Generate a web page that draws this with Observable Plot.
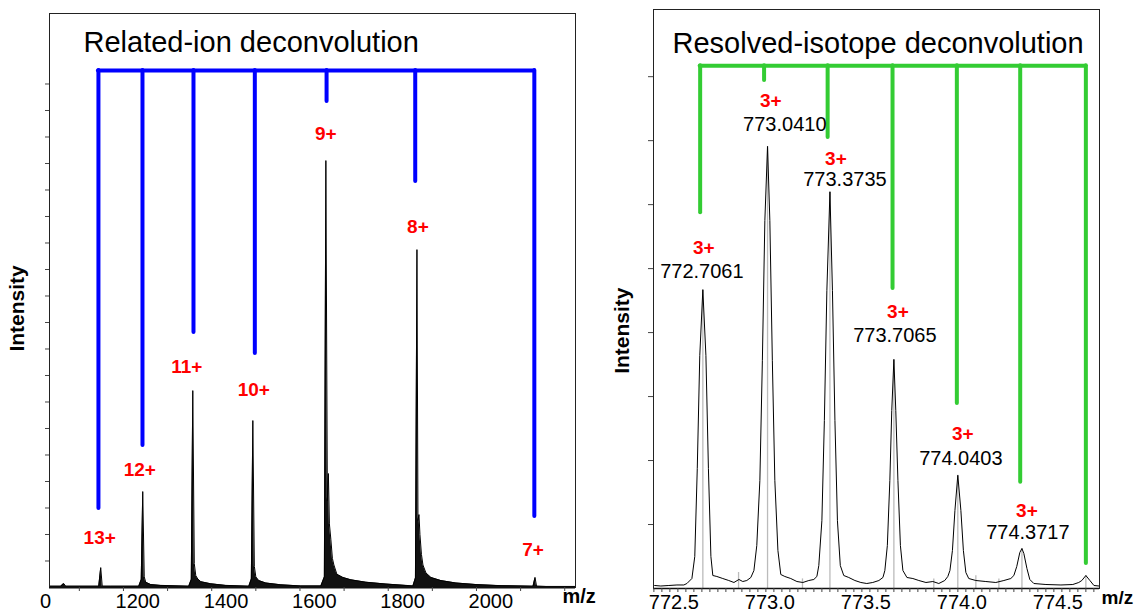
<!DOCTYPE html>
<html><head><meta charset="utf-8">
<script src="https://cdn.jsdelivr.net/npm/d3@7"></script>
<script src="https://cdn.jsdelivr.net/npm/@observablehq/plot@0.6"></script>
<style>
body{margin:0;background:#fff;}
#wrap{display:flex;width:1136px;height:615px;overflow:hidden;}
svg{overflow:visible;}
</style></head><body><div id="wrap"></div>
<script>
// ---------- Left panel: related-ion deconvolution ----------
const leftTitle = "Related-ion deconvolution";
const leftMz = [1000, 1025.4, 1032.2, 1036.7, 1111.6, 1116.1, 1119.5, 1138.8, 1202.3, 1207.9, 1211.3, 1214.7, 1218.1, 1229.5, 1252.2, 1315.6, 1321.3, 1324.7, 1328.1, 1331.5, 1336.1, 1342.9, 1365.5, 1399.6, 1451.7, 1457.4, 1460.8, 1464.2, 1467.6, 1474.4, 1490.3, 1524.3, 1569.6, 1615.0, 1622.9, 1626.3, 1629.7, 1632.0, 1634.3, 1637.7, 1641.1, 1644.5, 1651.3, 1664.9, 1683.0, 1717.0, 1762.4, 1807.8, 1823.6, 1829.3, 1832.7, 1835.0, 1837.3, 1839.5, 1842.9, 1846.3, 1853.1, 1864.4, 1887.1, 1921.1, 1966.5, 2023.2, 2095.8, 2100.3, 2103.7, 2125.3, 2191];
const leftInt = [0.05, 0.05, 0.15, 0.05, 0.05, 0.75, 0.05, 0.05, 0.05, 0.3, 3.62, 0.4, 0.2, 0.11, 0.08, 0.05, 0.3, 7.43, 0.9, 0.45, 0.32, 0.22, 0.14, 0.08, 0.05, 0.32, 6.30, 0.8, 0.4, 0.26, 0.17, 0.1, 0.06, 0.06, 0.4, 16.11, 3.28, 4.30, 2.4, 1.8, 1.1, 0.85, 0.5, 0.38, 0.29, 0.2, 0.13, 0.08, 0.06, 0.36, 12.75, 2.53, 2.75, 2.0, 1.25, 0.85, 0.55, 0.38, 0.26, 0.17, 0.11, 0.07, 0.05, 0.38, 0.05, 0.04, 0.04];
const leftCharge = ["13+", "12+", "11+", "10+", "9+", "8+", "7+"];
const leftChargeMz = [1113.8, 1204.5, 1311.1, 1463.0, 1626.3, 1834.9, 2095.7];
const leftChargeY = [1.89, 4.45, 8.34, 7.47, 17.13, 13.62, 1.43];
const blueMz = [1110.9, 1210.7, 1326.3, 1465.3, 1627.9, 1828.8, 2098.7];
const blueBottom = [2.98, 5.36, 9.62, 8.83, 18.34, 15.32, 2.68];
const blueTop = 19.51;
const leftXTicks = [1200, 1400, 1600, 1800, 2000];
const leftXTickText = ["1200", "1400", "1600", "1800", "2000"];
const leftZeroTick = 1000, leftZeroText = "0";
const leftXMinor = d3.range(1067.6, 2192, 100);
const leftYTicks = d3.range(1, 20);
const leftYLabelAt = 10.53;

// ---------- Right panel: resolved-isotope deconvolution ----------
const rightTitle = "Resolved-isotope deconvolution";
const rightMz = [772.40, 772.432, 772.474, 772.516, 772.552, 772.568, 772.594, 772.609, 772.622, 772.635, 772.651, 772.667, 772.680, 772.693, 772.703, 772.724, 772.755, 772.786, 772.813, 772.839, 772.859, 772.880, 772.901, 772.917, 772.932, 772.948, 772.961, 772.974, 772.988, 773.000, 773.013, 773.026, 773.042, 773.057, 773.078, 773.109, 773.141, 773.172, 773.203, 773.229, 773.245, 773.255, 773.271, 773.284, 773.297, 773.313, 773.326, 773.339, 773.352, 773.367, 773.385, 773.411, 773.443, 773.474, 773.505, 773.536, 773.568, 773.589, 773.599, 773.612, 773.625, 773.635, 773.646, 773.656, 773.667, 773.680, 773.693, 773.714, 773.745, 773.776, 773.813, 773.849, 773.880, 773.911, 773.927, 773.938, 773.951, 773.964, 773.979, 773.995, 774.008, 774.021, 774.036, 774.073, 774.125, 774.177, 774.219, 774.255, 774.271, 774.286, 774.302, 774.313, 774.323, 774.339, 774.354, 774.375, 774.438, 774.516, 774.578, 774.609, 774.625, 774.646, 774.667, 774.688, 774.714];
const rightInt = [0.047, 0.039, 0.047, 0.055, 0.055, 0.078, 0.156, 0.5, 1.875, 3.64, 4.67, 3.64, 1.875, 0.5, 0.203, 0.188, 0.156, 0.125, 0.094, 0.141, 0.109, 0.125, 0.172, 0.281, 0.672, 1.69, 3.56, 5.75, 6.91, 5.75, 3.56, 1.69, 0.594, 0.219, 0.188, 0.156, 0.109, 0.094, 0.125, 0.141, 0.188, 0.359, 1.06, 2.625, 4.66, 6.20, 4.66, 2.625, 1.06, 0.359, 0.203, 0.172, 0.125, 0.094, 0.078, 0.094, 0.125, 0.172, 0.281, 0.672, 1.69, 2.78, 3.58, 2.78, 1.69, 0.672, 0.281, 0.172, 0.156, 0.125, 0.094, 0.109, 0.078, 0.125, 0.188, 0.281, 0.594, 1.22, 1.77, 1.22, 0.594, 0.25, 0.156, 0.125, 0.109, 0.094, 0.125, 0.156, 0.203, 0.344, 0.5625, 0.625, 0.547, 0.3125, 0.141, 0.078, 0.0625, 0.055, 0.0625, 0.094, 0.125, 0.203, 0.125, 0.047, 0.039];
const stickMz = [772.651, 772.988, 773.313, 773.646, 773.979, 774.313, 774.646, 772.837, 773.170, 773.854, 774.073, 774.193];
const stickInt = [4.67, 6.91, 6.20, 3.58, 1.77, 0.625, 0.203, 0.25, 0.15, 0.15, 0.2, 0.15];
const isoCharge = ["3+", "3+", "3+", "3+", "3+", "3+"];
const isoChargeMz = [772.656, 773.005, 773.344, 773.667, 774.005, 774.339];
const isoChargeY = [5.32, 7.625, 6.72, 4.33, 2.41, 1.22];
const isoValue = ["772.7061", "773.0410", "773.3735", "773.7065", "774.0403", "774.3717"];
const isoValueMz = [772.646, 773.078, 773.391, 773.651, 773.995, 774.344];
const isoValueY = [4.96, 7.25, 6.39, 3.95, 2.03, 0.875];
const greenMz = [772.637, 772.970, 773.301, 773.639, 773.974, 774.304, 774.646];
const greenBottom = [5.875, 7.94, 7.05, 4.69, 2.89, 1.66, 0.39];
const greenTop = 8.17;
const rightXTicks = [772.5, 773.0, 773.5, 774.0, 774.5];
const rightXTickText = ["772.5", "773.0", "773.5", "774.0", "774.5"];
const rightXMinor = d3.range(772.396, 774.72, 1 / 24);
const rightYTicks = d3.range(1, 9);
const rightYLabelAt = 4.03;

const FONT = "Liberation Sans, Arial, Helvetica, sans-serif";
const leftData = leftMz.map((m, i) => ({m, v: leftInt[i]}));
const rightData = rightMz.map((m, i) => ({m, v: rightInt[i]}));

const left = Plot.plot({
  width: 600, height: 615,
  marginLeft: 49, marginRight: 25, marginTop: 13, marginBottom: 28,
  style: {fontFamily: FONT, background: "white", overflow: "visible"},
  x: {domain: [1000, 2192], label: null},
  y: {domain: [0, 21.66], label: null},
  marks: [
    Plot.areaY(leftData, {x: "m", y: "v", fill: "#111"}),
    Plot.lineY(leftData, {x: "m", y: "v", stroke: "black", strokeWidth: 1}),
    Plot.frame({stroke: "#222"}),
    Plot.ruleY([0], {stroke: "#111", strokeWidth: 2}),
    Plot.axisY({ticks: leftYTicks, tickSize: 4, fill: "none", anchor: "left", label: null, stroke: "#444"}),
    Plot.axisX({ticks: leftXMinor, tickSize: 4, fill: "none", label: null, stroke: "#444"}),
    Plot.axisX({ticks: leftXTicks, tickSize: 0, tickPadding: 6, fontSize: 20, label: null,
      tickFormat: d => leftXTickText[leftXTicks.indexOf(d)]}),
    Plot.axisX({ticks: [leftZeroTick], tickSize: 0, tickPadding: 6, fontSize: 20, label: null, dx: -4,
      tickFormat: () => leftZeroText}),
    Plot.ruleX(blueMz, {x: d => d, y1: (d, i) => blueBottom[i], y2: blueTop, stroke: "#0000ff", strokeWidth: 4, strokeLinecap: "round"}),
    Plot.ruleY([blueTop], {x1: d3.min(blueMz), x2: d3.max(blueMz), stroke: "#0000ff", strokeWidth: 4, strokeLinecap: "round"}),
    Plot.text(leftCharge, {x: leftChargeMz, y: leftChargeY, text: d => d, fill: "#ff0000", fontWeight: "bold", fontSize: 19}),
    Plot.text([leftTitle], {frameAnchor: "top-left", dx: 34, dy: 18, textAnchor: "start", fontSize: 29, text: d => d}),
    Plot.text(["Intensity"], {frameAnchor: "left", y: [leftYLabelAt], rotate: -90, dx: -32, textAnchor: "middle", fontWeight: "bold", fontSize: 21, text: d => d}),
    Plot.text(["m/z"], {frameAnchor: "bottom-right", dx: -13, dy: 15, textAnchor: "start", fontWeight: "bold", fontSize: 20, text: d => d})
  ]
});

const right = Plot.plot({
  width: 536, height: 615,
  marginLeft: 53, marginRight: 37, marginTop: 9, marginBottom: 27,
  style: {fontFamily: FONT, background: "white", overflow: "visible"},
  x: {domain: [772.394, 774.717], label: null},
  y: {domain: [0, 9.05], label: null},
  marks: [
    Plot.ruleX(stickMz, {x: d => d, y1: 0, y2: (d, i) => stickInt[i], stroke: "#bbbbbb", strokeWidth: 1.3}),
    Plot.lineY(rightData, {x: "m", y: "v", stroke: "black", strokeWidth: 1}),
    Plot.frame({stroke: "#222"}),
    Plot.ruleY([0], {stroke: "#111", strokeWidth: 1.5}),
    Plot.axisY({ticks: rightYTicks, tickSize: 5, fill: "none", anchor: "left", label: null, stroke: "#444"}),
    Plot.axisX({ticks: rightXMinor, tickSize: 4, fill: "none", label: null, stroke: "#444"}),
    Plot.axisX({ticks: rightXTicks, tickSize: 0, tickPadding: 6, fontSize: 20, label: null,
      tickFormat: d => rightXTickText[rightXTicks.indexOf(d)]}),
    Plot.ruleX(greenMz, {x: d => d, y1: (d, i) => greenBottom[i], y2: greenTop, stroke: "#33cc33", strokeWidth: 4, strokeLinecap: "round"}),
    Plot.ruleY([greenTop], {x1: d3.min(greenMz), x2: d3.max(greenMz), stroke: "#33cc33", strokeWidth: 4, strokeLinecap: "round"}),
    Plot.text(isoCharge, {x: isoChargeMz, y: isoChargeY, text: d => d, fill: "#ff0000", fontWeight: "bold", fontSize: 19}),
    Plot.text(isoValue, {x: isoValueMz, y: isoValueY, text: d => d, fill: "black", fontSize: 20}),
    Plot.text([rightTitle], {frameAnchor: "top-left", dx: 19, dy: 23, textAnchor: "start", fontSize: 29, text: d => d}),
    Plot.text(["Intensity"], {frameAnchor: "left", y: [rightYLabelAt], rotate: -90, dx: -31, textAnchor: "middle", fontWeight: "bold", fontSize: 21, text: d => d}),
    Plot.text(["m/z"], {frameAnchor: "bottom-right", dx: 2, dy: 15, textAnchor: "start", fontWeight: "bold", fontSize: 19, text: d => d})
  ]
});

document.getElementById("wrap").append(left, right);
</script></body></html>
